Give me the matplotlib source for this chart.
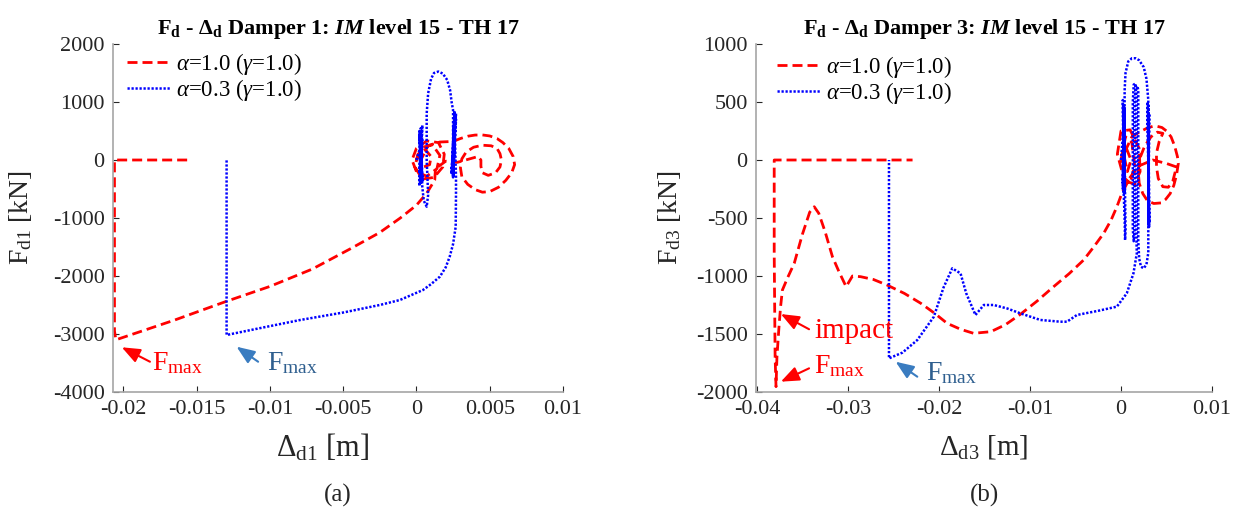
import matplotlib
matplotlib.use("Agg")
import matplotlib.pyplot as plt
from matplotlib.ticker import FixedLocator, FormatStrFormatter

plt.rcParams['font.family'] = ['Liberation Serif', 'DejaVu Serif']
plt.rcParams['mathtext.fontset'] = 'custom'
plt.rcParams['mathtext.rm'] = 'Liberation Serif'
plt.rcParams['mathtext.it'] = 'Liberation Serif:italic'
plt.rcParams['mathtext.bf'] = 'Liberation Serif:bold'
plt.rcParams['mathtext.bfit'] = 'Liberation Serif:italic:bold'
plt.rcParams['axes.unicode_minus'] = False

# ---------------- data (displacement [m], force [kN]) ----------------
# Damper 1, alpha = 1.0
d1_a10 = [(0.0000, 0), (0.0004, 220), (0.0011, 260), (0.0016, 80), (0.0014, -150), (0.0007, -280),
          (0.0000, -200), (-0.0003, 0), (0.0000, 200), (0.0007, 330), (0.0015, 300), (0.0019, 100),
          (0.0018, -120), (0.0012, -300), (0.0004, -330), (-0.0001, -120), (0.0001, 100), (0.0006, 180),
          (0.0010, 60), (0.0009, -80), (0.0005, -120), (0.0003, 0), (0.0008, 250), (0.0016, 310),
          (0.0025, 320), (0.0030, 370), (0.0035, 410), (0.0040, 430), (0.0045, 432), (0.0050, 415),
          (0.0055, 370), (0.0059, 300), (0.0063, 200), (0.0066, 60), (0.0067, -80), (0.0065, -220),
          (0.0061, -350), (0.0056, -470), (0.0050, -545), (0.0045, -555), (0.0040, -510), (0.0035, -420),
          (0.0031, -290), (0.0030, -130), (0.0031, 20), (0.0034, 140), (0.0039, 220), (0.0045, 255),
          (0.0051, 245), (0.0055, 200), (0.0057, 110), (0.0058, 0), (0.0057, -120), (0.0054, -220),
          (0.0049, -265), (0.0045, -220), (0.0044, -110), (0.0044, 0), (0.0042, 60), (0.0035, 10),
          (0.0028, -40), (0.0020, -20), (0.0013, -150), (0.00125, -345), (0.0007, -574), (0.0000, -780),
          (-0.0011, -1000), (-0.0025, -1250), (-0.0045, -1530), (-0.0071, -1880), (-0.0100, -2180),
          (-0.0130, -2440), (-0.0165, -2760), (-0.0205, -3100), (-0.0206, -2950), (-0.0206, 0),
          (-0.0155, 0)]

# Damper 1, alpha = 0.3
d1_a03 = [(0.0000, 0), (0.0003, 250), (0.0002, -200), (0.0004, 350), (0.0003, -300), (0.0002, 450),
          (0.0004, -380), (0.0003, 550), (0.0002, -450), (0.0004, 600), (0.0003, -420), (0.0002, 500),
          (0.0004, -350), (0.0003, 420), (0.0004, -460), (0.0005, -700), (0.0007, -805), (0.0008, -600),
          (0.0007, 0), (0.0007, 800), (0.0008, 1150), (0.0010, 1400), (0.0012, 1500), (0.0015, 1525),
          (0.0018, 1490), (0.0021, 1380), (0.0023, 1200), (0.0024, 1000), (0.0025, 860), (0.0025, -300),
          (0.0026, 850), (0.0024, -250), (0.0027, 800), (0.0025, -280), (0.0026, 780), (0.0024, -200),
          (0.0027, 700), (0.0025, -300), (0.0026, 650), (0.0027, -300), (0.0027, -574), (0.00268, -1150),
          (0.0025, -1450), (0.00227, -1667), (0.0020, -1850), (0.0016, -2011), (0.0010, -2140),
          (0.00045, -2241), (-0.00113, -2414), (-0.0025, -2500), (-0.0050, -2630), (-0.00794, -2759),
          (-0.0105, -2890), (-0.01295, -3017), (-0.01295, 0)]

# Damper 3, alpha = 1.0
d3_a10 = [(0.0000, 0), (0.0005, 200), (0.0012, 150), (0.0015, -50), (0.0010, -200), (0.0003, -150),
          (-0.0004, 50), (0.0000, 250), (0.0010, 260), (0.0020, 100), (0.0021, -100), (0.0015, -210),
          (0.0005, -180), (0.0001, 0), (0.0006, 100), (0.0011, 0), (0.0007, -100), (0.0003, 50),
          (0.0012, 200), (0.0020, 240), (0.0025, 260), (0.0030, 280), (0.0035, 290), (0.0040, 290),
          (0.0045, 280), (0.0050, 250), (0.0055, 200), (0.0059, 120), (0.0062, 30), (0.0063, -30),
          (0.0061, -130), (0.0058, -220), (0.0054, -290), (0.0049, -340), (0.0044, -370), (0.0036, -375),
          (0.0029, -350), (0.0024, -290), (0.0020, -200), (0.0019, -100), (0.0021, 20), (0.0026, 120),
          (0.0033, 200), (0.0040, 240), (0.0046, 230), (0.0042, 160), (0.0039, 60), (0.0039, -60),
          (0.0041, -160), (0.0046, -230), (0.0052, -235), (0.0057, -180), (0.0061, -60), (0.0050, -30),
          (0.0035, 0), (0.0020, -50), (0.0010, -150), (0.0001, -287), (-0.00045, -403), (-0.0011, -520),
          (-0.0019, -632), (-0.0030, -750), (-0.0041, -862), (-0.0057, -980), (-0.0074, -1092),
          (-0.0092, -1215), (-0.01105, -1330), (-0.0127, -1420), (-0.0143, -1480), (-0.0162, -1494),
          (-0.0176, -1460), (-0.0191, -1408), (-0.0205, -1320), (-0.0220, -1235), (-0.0238, -1150),
          (-0.0257, -1078), (-0.0272, -1030), (-0.0286, -1006), (-0.0295, -1000), (-0.0302, -1092),
          (-0.0310, -960), (-0.0317, -834), (-0.0325, -620), (-0.0332, -460), (-0.0337, -403),
          (-0.0342, -450), (-0.0350, -640), (-0.0359, -891), (-0.0366, -1010), (-0.0372, -1121),
          (-0.0374, -1265), (-0.0376, -1466), (-0.0378, -1700), (-0.0379, -1954), (-0.0380, -1700),
          (-0.0381, -800), (-0.0381, 0), (-0.0229, 0)]

# Damper 3, alpha = 0.3
d3_a03 = [(0.0000, 0), (0.0003, 300), (0.0002, -200), (0.0004, 450), (0.0003, -280), (0.0002, 517),
          (0.0004, -287), (0.0003, 480), (0.0002, -250), (0.0004, 400), (0.0003, -287), (0.0004, -500),
          (0.00045, -690), (0.0005, -600), (0.0004, 0), (0.0004, 600), (0.0005, 750), (0.0008, 850),
          (0.0012, 877), (0.0016, 877), (0.0020, 860), (0.0025, 800), (0.0028, 700), (0.0030, 517),
          (0.0031, -575), (0.0029, 500), (0.0031, -540), (0.0030, 470), (0.0030, -560), (0.0031, 400),
          (0.0030, -500), (0.0030, -800), (0.0028, -900), (0.0025, -934), (0.0022, -920), (0.0020, -850),
          (0.0019, -700), (0.0019, 0), (0.0019, 600), (0.0018, 640), (0.0016, 630), (0.0015, 500),
          (0.0015, -600), (0.0014, -700), (0.0013, -600), (0.0013, 500), (0.0014, 650), (0.0016, 660),
          (0.0017, 550), (0.0017, -700), (0.00174, -804), (0.00137, -977), (0.00064, -1149),
          (-0.00045, -1264), (-0.0025, -1300), (-0.00484, -1336), (-0.00593, -1394), (-0.00667, -1394),
          (-0.00886, -1379), (-0.01105, -1322), (-0.0125, -1280), (-0.01398, -1250), (-0.01507, -1250),
          (-0.01599, -1336), (-0.0170, -1150), (-0.01763, -977), (-0.01854, -934), (-0.0195, -1100),
          (-0.02056, -1351), (-0.02238, -1552), (-0.0240, -1660), (-0.02549, -1710), (-0.02549, 0)]

series_labels = [r"$\alpha$=1.0 ($\gamma$=1.0)", r"$\alpha$=0.3 ($\gamma$=1.0)"]
x1_ticks = [-0.02, -0.015, -0.01, -0.005, 0, 0.005, 0.01]
y1_ticks = [-4000, -3000, -2000, -1000, 0, 1000, 2000]
x3_ticks = [-0.04, -0.03, -0.02, -0.01, 0, 0.01]
y3_ticks = [-2000, -1500, -1000, -500, 0, 500, 1000]

# ---------------- figure ----------------
W, H = 1237, 518
fig = plt.figure(figsize=(W / 100, H / 100), dpi=100)
ax1 = fig.add_axes([113 / W, (H - 392) / H, 450 / W, 348 / H])
ax2 = fig.add_axes([756 / W, (H - 392) / H, 456 / W, 348 / H])

RED = '#ff0000'
BLUE = '#0000ff'
ARROW_BLUE = '#3a7cc0'
TEXT_BLUE = '#2f5f8f'
TICKC = '#262626'


def draw(ax, a10, a03):
    xs, ys = zip(*a10)
    ax.plot(xs, ys, color=RED, lw=2.0, dashes=[3.6, 1.8], label=series_labels[0], clip_on=False)
    xs, ys = zip(*a03)
    ax.plot(xs, ys, color=BLUE, lw=1.8, dashes=[0.9, 0.7], label=series_labels[1], clip_on=False)


def style(ax, xt, yt, xlim, ylim):
    ax.set_xlim(*xlim)
    ax.set_ylim(*ylim)
    ax.xaxis.set_major_locator(FixedLocator(xt))
    ax.yaxis.set_major_locator(FixedLocator(yt))
    ax.xaxis.set_major_formatter(FormatStrFormatter('%g'))
    ax.yaxis.set_major_formatter(FormatStrFormatter('%g'))
    for s in ['top', 'right']:
        ax.spines[s].set_visible(False)
    for s in ['left', 'bottom']:
        ax.spines[s].set_color('#a6a6a6')
        ax.spines[s].set_linewidth(1.2)
    ax.tick_params(direction='in', length=4, width=0.8, color='#262626',
                   labelsize=16, labelcolor=TICKC, pad=6)


draw(ax1, d1_a10, d1_a03)
draw(ax2, d3_a10, d3_a03)
style(ax1, x1_ticks, y1_ticks, (-0.0207, 0.01), (-4000, 2000))
style(ax2, x3_ticks, y3_ticks, (-0.0401, 0.01), (-2000, 1000))

ax1.set_title(r"$\mathbf{F_d}$ - $\mathbf{\Delta_d}$ Damper 1: $\mathbfit{IM}$ level 15 - TH 17",
              fontsize=16, fontweight='bold', pad=7)
ax2.set_title(r"$\mathbf{F_d}$ - $\mathbf{\Delta_d}$ Damper 3: $\mathbfit{IM}$ level 15 - TH 17",
              fontsize=16, fontweight='bold', pad=7)

ax1.set_xlabel(r"$\Delta_{\mathrm{d1}}$ [m]", fontsize=22, color=TICKC)
ax2.set_xlabel(r"$\Delta_{\mathrm{d3}}$ [m]", fontsize=21, color=TICKC)
ax1.set_ylabel(r"F$_{\mathrm{d1}}$ [kN]", fontsize=20, color=TICKC)
ax2.set_ylabel(r"F$_{\mathrm{d3}}$ [kN]", fontsize=20, color=TICKC)
ax1.xaxis.set_label_coords(0.465, -0.116)
ax2.xaxis.set_label_coords(0.5, -0.118)
ax1.yaxis.set_label_coords(-0.176, 0.5)
ax2.yaxis.set_label_coords(-0.16, 0.5)

for ax, anchor in ((ax1, (-0.004, 1.025)), (ax2, (0.011, 1.016))):
    ax.legend(loc='upper left', bbox_to_anchor=anchor, frameon=False, fontsize=16.5,
              handlelength=1.92, handletextpad=0.2, labelspacing=0.0, borderaxespad=0.3)

ap = dict(arrowstyle='-|>,head_length=0.55,head_width=0.22', lw=1.5, shrinkA=0, shrinkB=0,
          mutation_scale=20)

# annotations, damper 1
ax1.annotate('', xy=(-0.0201, -3229), xytext=(-0.01818, -3478), arrowprops=dict(ap, color=RED))
ax1.text(-0.01804, -3621, r"F$_{\mathrm{max}}$", color=RED, fontsize=20, va='baseline', ha='left')
ax1.annotate('', xy=(-0.01227, -3219), xytext=(-0.0108, -3478), arrowprops=dict(ap, color=ARROW_BLUE))
ax1.text(-0.01022, -3621, r"F$_{\mathrm{max}}$", color=TEXT_BLUE, fontsize=20, va='baseline', ha='left')

# annotations, damper 3
ax2.annotate('', xy=(-0.03737, -1328), xytext=(-0.03427, -1459), arrowprops=dict(ap, color=RED))
ax2.text(-0.03372, -1537, "impact", color=RED, fontsize=21, va='baseline', ha='left')
ax2.annotate('', xy=(-0.03737, -1911), xytext=(-0.03427, -1796), arrowprops=dict(ap, color=RED))
ax2.text(-0.03372, -1839, r"F$_{\mathrm{max}}$", color=RED, fontsize=20, va='baseline', ha='left')
ax2.annotate('', xy=(-0.02476, -1739), xytext=(-0.02238, -1868), arrowprops=dict(ap, color=ARROW_BLUE))
ax2.text(-0.02147, -1897, r"F$_{\mathrm{max}}$", color=TEXT_BLUE, fontsize=20, va='baseline', ha='left')

fig.text(338 / W, 1 - 495 / H, "(a)", fontsize=18, ha='center', va='center', color=TICKC)
fig.text(984 / W, 1 - 495 / H, "(b)", fontsize=18, ha='center', va='center', color=TICKC)

fig.savefig("out.png", dpi=100)
